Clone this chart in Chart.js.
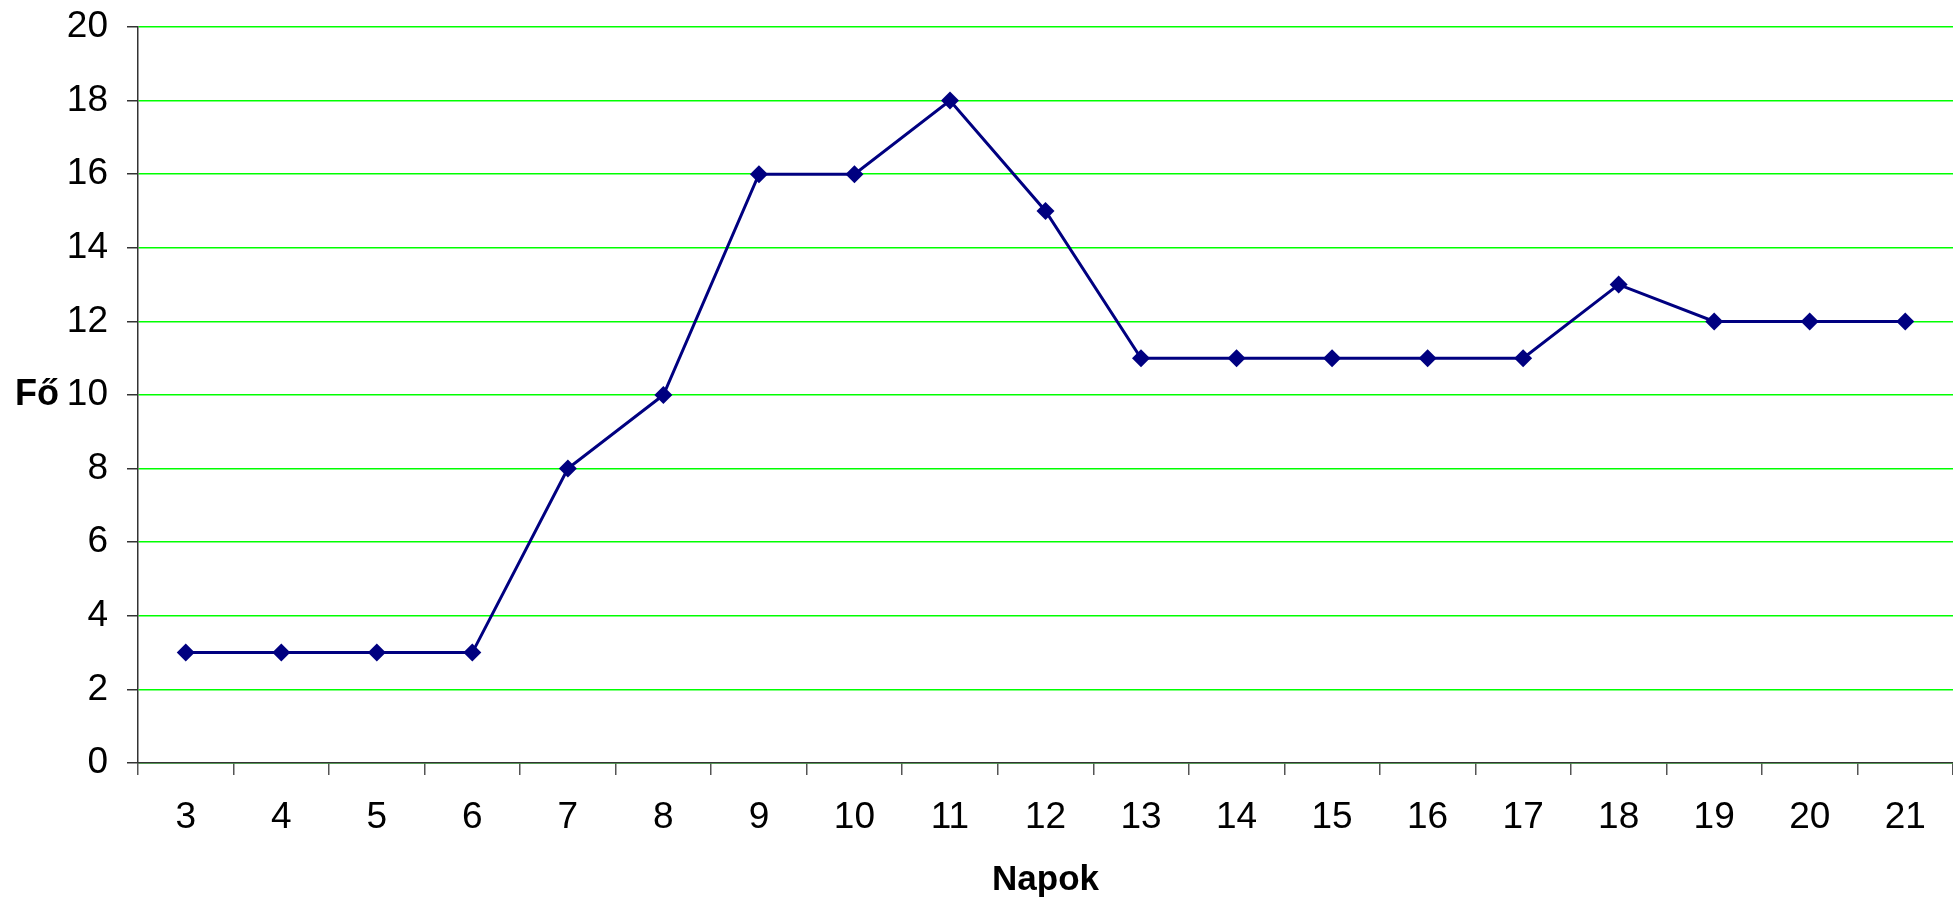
<!DOCTYPE html>
<html>
<head>
<meta charset="utf-8">
<script src="https://cdn.jsdelivr.net/npm/chart.js@4"></script>
<style>
html,body{margin:0;padding:0;background:#fff;overflow:hidden;width:1953px;height:902px;}
#wrap{position:absolute;left:0;top:0;width:1962px;height:902px;}
</style>
</head>
<body>
<div id="wrap"><canvas id="c" width="1962" height="902"></canvas></div>
<script>
const days = ["3","4","5","6","7","8","9","10","11","12","13","14","15","16","17","18","19","20","21"];
const people = [3,3,3,3,8,10,16,16,18,15,11,11,11,11,11,13,12,12,12];
const yTitle = "Fő";
const xTitle = "Napok";

const titlesPlugin = {
  id: 'titles',
  afterDraw(chart) {
    const ctx = chart.ctx;
    const ca = chart.chartArea;
    ctx.save();
    ctx.fillStyle = '#000';
    ctx.textAlign = 'center';
    ctx.textBaseline = 'middle';
    ctx.font = 'bold 36px "Liberation Sans", Arial, sans-serif';
    ctx.fillText(yTitle, 37, (chart.scales.y.getPixelForValue(10)));
    ctx.font = 'bold 35px "Liberation Sans", Arial, sans-serif';
    ctx.fillText(xTitle, (ca.left + ca.right) / 2, 880);
    ctx.restore();
  }
};

Chart.defaults.font.family = '"Liberation Sans", Arial, sans-serif';
Chart.defaults.color = '#000';

new Chart(document.getElementById('c'), {
  type: 'line',
  data: {
    labels: days,
    datasets: [{
      data: people,
      borderColor: '#000080',
      backgroundColor: '#000080',
      borderWidth: 3,
      pointStyle: 'rectRot',
      pointRadius: 9,
      pointHoverRadius: 9,
      pointBorderWidth: 0,
      tension: 0,
      fill: false
    }]
  },
  options: {
    responsive: false,
    animation: false,
    devicePixelRatio: 1,
    layout: { padding: 0 },
    plugins: { legend: { display: false }, tooltip: { enabled: false } },
    scales: {
      x: {
        offset: true,
        grid: {
          offset: true,
          drawOnChartArea: false,
          color: '#555',
          tickColor: '#555',
          tickLength: 12,
          lineWidth: 1.5
        },
        border: { color: '#333', width: 1.5 },
        ticks: { font: { size: 37 }, padding: 21, maxRotation: 0, autoSkip: false },
        afterFit(s) { s.height = 139; s.paddingLeft = 0; s.paddingRight = 0; }
      },
      y: {
        min: 0,
        max: 20,
        ticks: { stepSize: 2, font: { size: 37 }, padding: 19 },
        grid: {
          color: '#00FF00',
          lineWidth: 1.5,
          tickColor: '#333',
          tickLength: 11
        },
        border: { color: '#333', width: 1.5 },
        afterFit(s) { s.width = 138; s.paddingTop = 27; s.paddingBottom = 0; }
      }
    }
  },
  plugins: [titlesPlugin]
});
</script>
</body>
</html>
